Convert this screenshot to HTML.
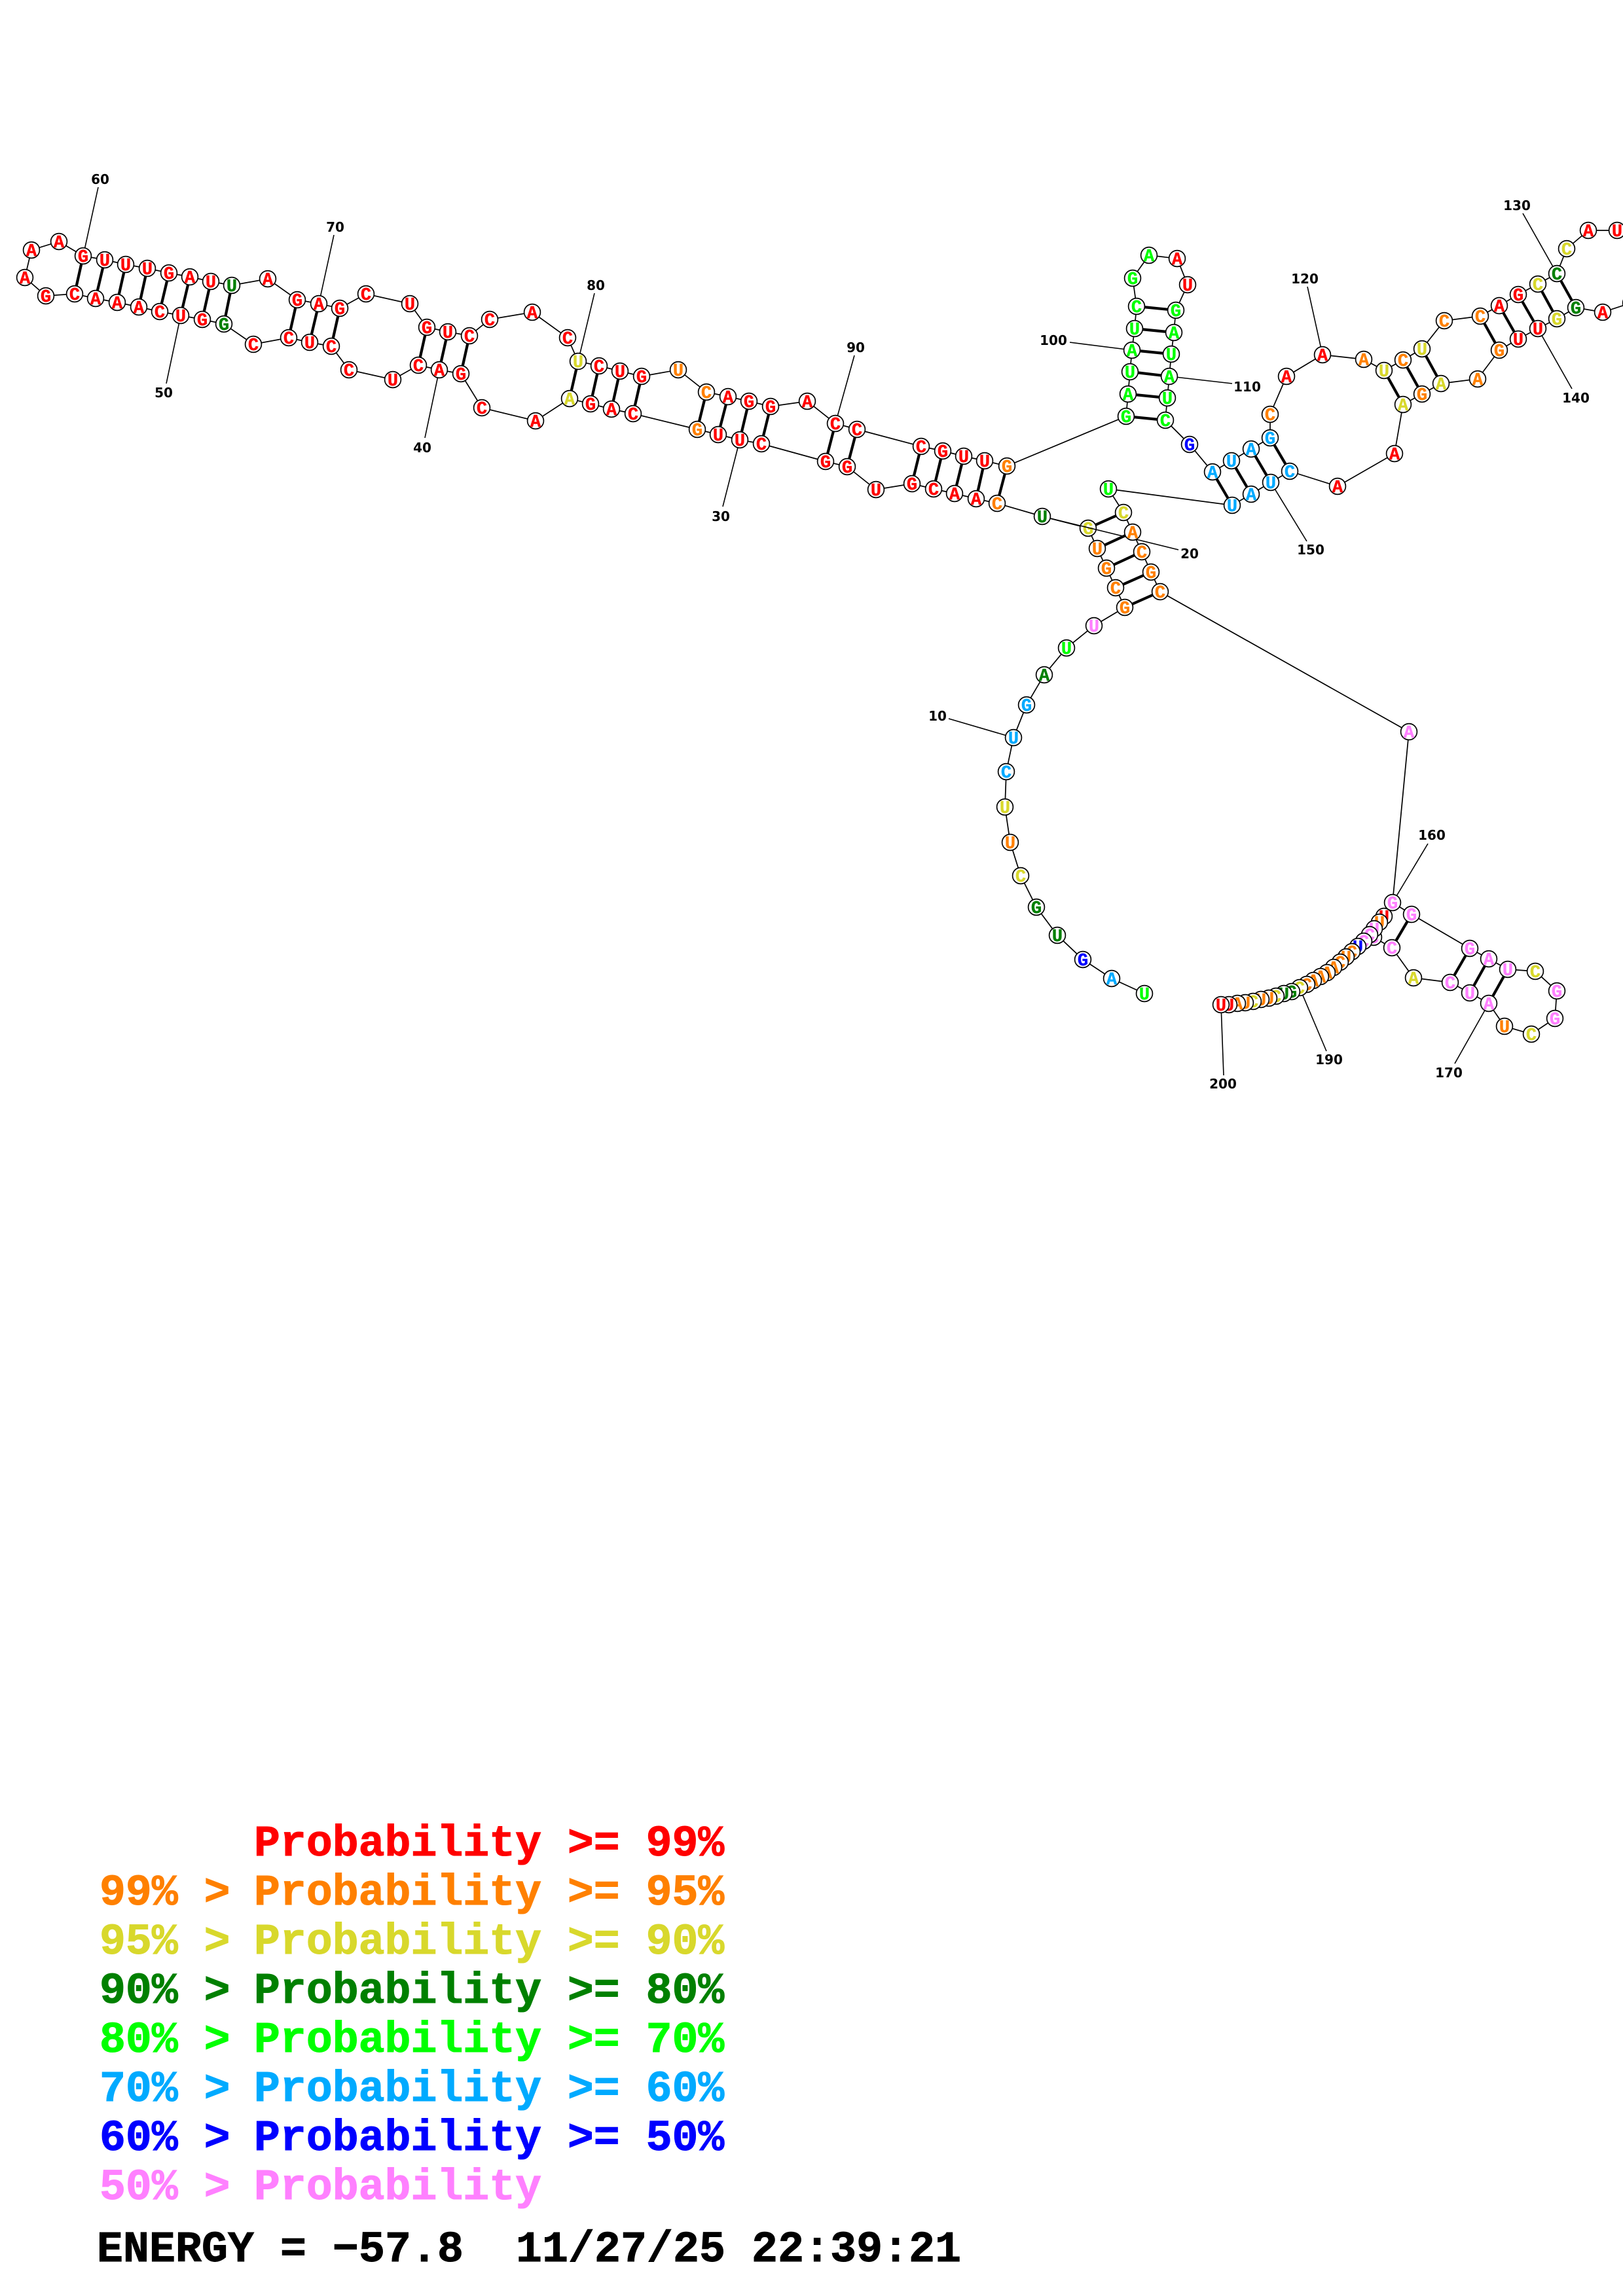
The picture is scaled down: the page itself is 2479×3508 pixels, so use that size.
<!DOCTYPE html>
<html><head><meta charset="utf-8"><title>RNA structure</title>
<style>
html,body{margin:0;padding:0;background:#fff}
svg{display:block}
circle{fill:#fff;stroke:#000;stroke-width:1.7}
.n text{font-family:"Liberation Mono",monospace;font-weight:bold;font-size:27px;text-anchor:middle;stroke-width:.45}
.r{fill:#ff0000;stroke:#ff0000}.o{fill:#ff8000;stroke:#ff8000}.y{fill:#d8d82c;stroke:#d8d82c}.d{fill:#008000;stroke:#008000}.g{fill:#00ff00;stroke:#00ff00}.s{fill:#00aaff;stroke:#00aaff}.b{fill:#0000ff;stroke:#0000ff}.p{fill:#ff80ff;stroke:#ff80ff}.k{fill:#000;stroke:#000}
.bb{fill:none;stroke:#000;stroke-width:1.7}
.bp{stroke:#000;stroke-width:4.2;fill:none}
.ll{stroke:#000;stroke-width:1.6;fill:none}
.num{font-family:"DejaVu Sans",sans-serif;font-weight:bold;font-size:20px;text-anchor:middle;fill:#000}
.leg{font-family:"Liberation Mono",monospace;font-weight:bold;font-size:66.5px;stroke-width:1}
</style></head><body>
<svg xmlns="http://www.w3.org/2000/svg" width="2479" height="3508" viewBox="0 0 2479 3508">
<rect width="2479" height="3508" fill="#fff"/>
<polyline class="bb" points="1748,1518 1698,1495 1654,1466 1615,1429 1583,1386 1559,1338 1543,1287 1535,1233 1537,1179 1548,1127 1568,1077 1595,1031 1629,990 1671,956 1718,928 1704,898 1690,868 1676,838 1662,807 1592,789 1523,769 1491,762 1458,754 1426,747 1393,739 1338,748 1294,713 1261,705 1163,678 1130,672 1097,664 1065,656 967,632 934,625 902,617 870,609 818,643 736,623 704,571 671,565 639,558 600,580 533,565 506,529 473,523 441,516 387,526 342,495 309,488 276,482 244,476 212,469 179,462 146,456 114,449 70,452 38,424 48,382 90,369 127,391 160,397 192,404 225,410 258,417 290,423 322,430 354,436 409,426 454,458 487,464 519,471 559,449 626,464 652,500 684,507 717,513 748,488 813,477 867,516 883,552 915,559 947,567 980,575 1036,565 1079,599 1112,606 1144,613 1177,621 1233,613 1276,647 1309,656 1407,682 1440,689 1472,697 1504,704 1538,712 1720,636 1723,602 1726,568 1729,535 1733,502 1736,468 1730,425 1755,390 1798,395 1814,435 1796,474 1793,508 1789,541 1786,575 1783,608 1780,642 1817,679 1852,721 1881,704 1911,686 1940,669 1940,633 1965,575 2020,542 2083,549 2114,566 2143,550 2172,533 2206,490 2261,483 2290,467 2319,450 2349,434 2378,418 2393,380 2426,352 2470,352 2510,370 2520,420 2491,463 2448,477 2407,470 2378,487 2349,502 2319,518 2290,535 2257,579 2201,586 2172,602 2143,618 2130,693 2043,743 1970,720 1941,737 1911,755 1882,772 1693,747 1716,783 1730,813 1744,843 1758,874 1772,904 2152,1118 2127,1379 2156,1397 2245,1449 2274,1465 2303,1481 2345,1484 2378,1514 2375,1556 2339,1580 2298,1568 2274,1533 2245,1517 2215,1501 2159,1494 2126,1448 2098,1432"/>
<g class="bp">
<path d="M1718 928L1772 904M1704 898L1758 874M1690 868L1744 843M1676 838L1730 813M1662 807L1716 783"/>
<path d="M1523 769L1538 712M1491 762L1504 704M1458 754L1472 697M1426 747L1440 689M1393 739L1407 682"/>
<path d="M1294 713L1309 656M1261 705L1276 647M1163 678L1177 621M1130 672L1144 613M1097 664L1112 606M1065 656L1079 599"/>
<path d="M967 632L980 575M934 625L947 567M902 617L915 559M870 609L883 552"/>
<path d="M704 571L717 513M671 565L684 507M639 558L652 500M506 529L519 471M473 523L487 464M441 516L454 458"/>
<path d="M342 495L354 436M309 488L322 430M276 482L290 423M244 476L258 417M212 469L225 410M179 462L192 404M146 456L160 397M114 449L127 391"/>
<path d="M1720 636L1780 642M1723 602L1783 608M1726 568L1786 575M1729 535L1789 541M1733 502L1793 508M1736 468L1796 474"/>
<path d="M1852 721L1882 772M1881 704L1911 755M1911 686L1941 737M1940 669L1970 720"/>
<path d="M2114 566L2143 618M2143 550L2172 602M2172 533L2201 586M2261 483L2290 535M2290 467L2319 518M2319 450L2349 502M2349 434L2378 487M2378 418L2407 470"/>
<path d="M2156 1397L2126 1448M2245 1449L2215 1501M2274 1465L2245 1517M2303 1481L2274 1533"/>
</g>
<g class="ll">
<path d="M1548 1127L1449 1098M1130 672L1104 774M671 565L649 669M276 482L254 586M127 391L150 286M487 464L510 359M883 552L908 448M1276 647L1305 543M1729 535L1634 523M1786 575L1882 586M2020 542L1997 438M2378 418L2326 326M2349 502L2401 594M1941 737L1996 827M2127 1379L2181 1289M2274 1533L2222 1625M1985 1509L2026 1606M1865 1535L1869 1643"/>
</g>
<g class="num">
<text class="num" x="1432" y="1101">10</text>
<text class="num" x="1817" y="853">20</text>
<text class="num" x="1101" y="796">30</text>
<text class="num" x="645" y="691">40</text>
<text class="num" x="250" y="607">50</text>
<text class="num" x="153" y="281">60</text>
<text class="num" x="512" y="354">70</text>
<text class="num" x="910" y="443">80</text>
<text class="num" x="1307" y="538">90</text>
<text class="num" x="1609" y="527">100</text>
<text class="num" x="1905" y="598">110</text>
<text class="num" x="1993" y="433">120</text>
<text class="num" x="2317" y="321">130</text>
<text class="num" x="2407" y="615">140</text>
<text class="num" x="2002" y="847">150</text>
<text class="num" x="2187" y="1283">160</text>
<text class="num" x="2213" y="1646">170</text>
<text class="num" x="2030" y="1626">190</text>
<text class="num" x="1868" y="1663">200</text>
</g>
<g class="n">
<circle cx="1748" cy="1518" r="12.4"/><text class="g" x="1748" y="1527">U</text>
<circle cx="1698" cy="1495" r="12.4"/><text class="s" x="1698" y="1504">A</text>
<circle cx="1654" cy="1466" r="12.4"/><text class="b" x="1654" y="1475">G</text>
<circle cx="1615" cy="1429" r="12.4"/><text class="d" x="1615" y="1438">U</text>
<circle cx="1583" cy="1386" r="12.4"/><text class="d" x="1583" y="1395">G</text>
<circle cx="1559" cy="1338" r="12.4"/><text class="y" x="1559" y="1347">C</text>
<circle cx="1543" cy="1287" r="12.4"/><text class="o" x="1543" y="1296">U</text>
<circle cx="1535" cy="1233" r="12.4"/><text class="y" x="1535" y="1242">U</text>
<circle cx="1537" cy="1179" r="12.4"/><text class="s" x="1537" y="1188">C</text>
<circle cx="1548" cy="1127" r="12.4"/><text class="s" x="1548" y="1136">U</text>
<circle cx="1568" cy="1077" r="12.4"/><text class="s" x="1568" y="1086">G</text>
<circle cx="1595" cy="1031" r="12.4"/><text class="d" x="1595" y="1040">A</text>
<circle cx="1629" cy="990" r="12.4"/><text class="g" x="1629" y="999">U</text>
<circle cx="1671" cy="956" r="12.4"/><text class="p" x="1671" y="965">U</text>
<circle cx="1718" cy="928" r="12.4"/><text class="o" x="1718" y="937">G</text>
<circle cx="1704" cy="898" r="12.4"/><text class="o" x="1704" y="907">C</text>
<circle cx="1690" cy="868" r="12.4"/><text class="o" x="1690" y="877">G</text>
<circle cx="1676" cy="838" r="12.4"/><text class="o" x="1676" y="847">U</text>
<circle cx="1662" cy="807" r="12.4"/><text class="y" x="1662" y="816">G</text>
<path class="ll" d="M1592 789L1800 840"/>
<circle cx="1592" cy="789" r="12.4"/><text class="d" x="1592" y="798">U</text>
<circle cx="1523" cy="769" r="12.4"/><text class="o" x="1523" y="778">C</text>
<circle cx="1491" cy="762" r="12.4"/><text class="r" x="1491" y="771">A</text>
<circle cx="1458" cy="754" r="12.4"/><text class="r" x="1458" y="763">A</text>
<circle cx="1426" cy="747" r="12.4"/><text class="r" x="1426" y="756">C</text>
<circle cx="1393" cy="739" r="12.4"/><text class="r" x="1393" y="748">G</text>
<circle cx="1338" cy="748" r="12.4"/><text class="r" x="1338" y="757">U</text>
<circle cx="1294" cy="713" r="12.4"/><text class="r" x="1294" y="722">G</text>
<circle cx="1261" cy="705" r="12.4"/><text class="r" x="1261" y="714">G</text>
<circle cx="1163" cy="678" r="12.4"/><text class="r" x="1163" y="687">C</text>
<circle cx="1130" cy="672" r="12.4"/><text class="r" x="1130" y="681">U</text>
<circle cx="1097" cy="664" r="12.4"/><text class="r" x="1097" y="673">U</text>
<circle cx="1065" cy="656" r="12.4"/><text class="o" x="1065" y="665">G</text>
<circle cx="967" cy="632" r="12.4"/><text class="r" x="967" y="641">C</text>
<circle cx="934" cy="625" r="12.4"/><text class="r" x="934" y="634">A</text>
<circle cx="902" cy="617" r="12.4"/><text class="r" x="902" y="626">G</text>
<circle cx="870" cy="609" r="12.4"/><text class="y" x="870" y="618">A</text>
<circle cx="818" cy="643" r="12.4"/><text class="r" x="818" y="652">A</text>
<circle cx="736" cy="623" r="12.4"/><text class="r" x="736" y="632">C</text>
<circle cx="704" cy="571" r="12.4"/><text class="r" x="704" y="580">G</text>
<circle cx="671" cy="565" r="12.4"/><text class="r" x="671" y="574">A</text>
<circle cx="639" cy="558" r="12.4"/><text class="r" x="639" y="567">C</text>
<circle cx="600" cy="580" r="12.4"/><text class="r" x="600" y="589">U</text>
<circle cx="533" cy="565" r="12.4"/><text class="r" x="533" y="574">C</text>
<circle cx="506" cy="529" r="12.4"/><text class="r" x="506" y="538">C</text>
<circle cx="473" cy="523" r="12.4"/><text class="r" x="473" y="532">U</text>
<circle cx="441" cy="516" r="12.4"/><text class="r" x="441" y="525">C</text>
<circle cx="387" cy="526" r="12.4"/><text class="r" x="387" y="535">C</text>
<circle cx="342" cy="495" r="12.4"/><text class="d" x="342" y="504">G</text>
<circle cx="309" cy="488" r="12.4"/><text class="r" x="309" y="497">G</text>
<circle cx="276" cy="482" r="12.4"/><text class="r" x="276" y="491">U</text>
<circle cx="244" cy="476" r="12.4"/><text class="r" x="244" y="485">C</text>
<circle cx="212" cy="469" r="12.4"/><text class="r" x="212" y="478">A</text>
<circle cx="179" cy="462" r="12.4"/><text class="r" x="179" y="471">A</text>
<circle cx="146" cy="456" r="12.4"/><text class="r" x="146" y="465">A</text>
<circle cx="114" cy="449" r="12.4"/><text class="r" x="114" y="458">C</text>
<circle cx="70" cy="452" r="12.4"/><text class="r" x="70" y="461">G</text>
<circle cx="38" cy="424" r="12.4"/><text class="r" x="38" y="433">A</text>
<circle cx="48" cy="382" r="12.4"/><text class="r" x="48" y="391">A</text>
<circle cx="90" cy="369" r="12.4"/><text class="r" x="90" y="378">A</text>
<circle cx="127" cy="391" r="12.4"/><text class="r" x="127" y="400">G</text>
<circle cx="160" cy="397" r="12.4"/><text class="r" x="160" y="406">U</text>
<circle cx="192" cy="404" r="12.4"/><text class="r" x="192" y="413">U</text>
<circle cx="225" cy="410" r="12.4"/><text class="r" x="225" y="419">U</text>
<circle cx="258" cy="417" r="12.4"/><text class="r" x="258" y="426">G</text>
<circle cx="290" cy="423" r="12.4"/><text class="r" x="290" y="432">A</text>
<circle cx="322" cy="430" r="12.4"/><text class="r" x="322" y="439">U</text>
<circle cx="354" cy="436" r="12.4"/><text class="d" x="354" y="445">U</text>
<circle cx="409" cy="426" r="12.4"/><text class="r" x="409" y="435">A</text>
<circle cx="454" cy="458" r="12.4"/><text class="r" x="454" y="467">G</text>
<circle cx="487" cy="464" r="12.4"/><text class="r" x="487" y="473">A</text>
<circle cx="519" cy="471" r="12.4"/><text class="r" x="519" y="480">G</text>
<circle cx="559" cy="449" r="12.4"/><text class="r" x="559" y="458">C</text>
<circle cx="626" cy="464" r="12.4"/><text class="r" x="626" y="473">U</text>
<circle cx="652" cy="500" r="12.4"/><text class="r" x="652" y="509">G</text>
<circle cx="684" cy="507" r="12.4"/><text class="r" x="684" y="516">U</text>
<circle cx="717" cy="513" r="12.4"/><text class="r" x="717" y="522">C</text>
<circle cx="748" cy="488" r="12.4"/><text class="r" x="748" y="497">C</text>
<circle cx="813" cy="477" r="12.4"/><text class="r" x="813" y="486">A</text>
<circle cx="867" cy="516" r="12.4"/><text class="r" x="867" y="525">C</text>
<circle cx="883" cy="552" r="12.4"/><text class="y" x="883" y="561">U</text>
<circle cx="915" cy="559" r="12.4"/><text class="r" x="915" y="568">C</text>
<circle cx="947" cy="567" r="12.4"/><text class="r" x="947" y="576">U</text>
<circle cx="980" cy="575" r="12.4"/><text class="r" x="980" y="584">G</text>
<circle cx="1036" cy="565" r="12.4"/><text class="o" x="1036" y="574">U</text>
<circle cx="1079" cy="599" r="12.4"/><text class="o" x="1079" y="608">C</text>
<circle cx="1112" cy="606" r="12.4"/><text class="r" x="1112" y="615">A</text>
<circle cx="1144" cy="613" r="12.4"/><text class="r" x="1144" y="622">G</text>
<circle cx="1177" cy="621" r="12.4"/><text class="r" x="1177" y="630">G</text>
<circle cx="1233" cy="613" r="12.4"/><text class="r" x="1233" y="622">A</text>
<circle cx="1276" cy="647" r="12.4"/><text class="r" x="1276" y="656">C</text>
<circle cx="1309" cy="656" r="12.4"/><text class="r" x="1309" y="665">C</text>
<circle cx="1407" cy="682" r="12.4"/><text class="r" x="1407" y="691">C</text>
<circle cx="1440" cy="689" r="12.4"/><text class="r" x="1440" y="698">G</text>
<circle cx="1472" cy="697" r="12.4"/><text class="r" x="1472" y="706">U</text>
<circle cx="1504" cy="704" r="12.4"/><text class="r" x="1504" y="713">U</text>
<circle cx="1538" cy="712" r="12.4"/><text class="o" x="1538" y="721">G</text>
<circle cx="1720" cy="636" r="12.4"/><text class="g" x="1720" y="645">G</text>
<circle cx="1723" cy="602" r="12.4"/><text class="g" x="1723" y="611">A</text>
<circle cx="1726" cy="568" r="12.4"/><text class="g" x="1726" y="577">U</text>
<circle cx="1729" cy="535" r="12.4"/><text class="g" x="1729" y="544">A</text>
<circle cx="1733" cy="502" r="12.4"/><text class="g" x="1733" y="511">U</text>
<circle cx="1736" cy="468" r="12.4"/><text class="g" x="1736" y="477">C</text>
<circle cx="1730" cy="425" r="12.4"/><text class="g" x="1730" y="434">G</text>
<circle cx="1755" cy="390" r="12.4"/><text class="g" x="1755" y="399">A</text>
<circle cx="1798" cy="395" r="12.4"/><text class="r" x="1798" y="404">A</text>
<circle cx="1814" cy="435" r="12.4"/><text class="r" x="1814" y="444">U</text>
<circle cx="1796" cy="474" r="12.4"/><text class="g" x="1796" y="483">G</text>
<circle cx="1793" cy="508" r="12.4"/><text class="g" x="1793" y="517">A</text>
<circle cx="1789" cy="541" r="12.4"/><text class="g" x="1789" y="550">U</text>
<circle cx="1786" cy="575" r="12.4"/><text class="g" x="1786" y="584">A</text>
<circle cx="1783" cy="608" r="12.4"/><text class="g" x="1783" y="617">U</text>
<circle cx="1780" cy="642" r="12.4"/><text class="g" x="1780" y="651">C</text>
<circle cx="1817" cy="679" r="12.4"/><text class="b" x="1817" y="688">G</text>
<circle cx="1852" cy="721" r="12.4"/><text class="s" x="1852" y="730">A</text>
<circle cx="1881" cy="704" r="12.4"/><text class="s" x="1881" y="713">U</text>
<circle cx="1911" cy="686" r="12.4"/><text class="s" x="1911" y="695">A</text>
<circle cx="1940" cy="669" r="12.4"/><text class="s" x="1940" y="678">G</text>
<circle cx="1940" cy="633" r="12.4"/><text class="o" x="1940" y="642">C</text>
<circle cx="1965" cy="575" r="12.4"/><text class="r" x="1965" y="584">A</text>
<circle cx="2020" cy="542" r="12.4"/><text class="r" x="2020" y="551">A</text>
<circle cx="2083" cy="549" r="12.4"/><text class="o" x="2083" y="558">A</text>
<circle cx="2114" cy="566" r="12.4"/><text class="y" x="2114" y="575">U</text>
<circle cx="2143" cy="550" r="12.4"/><text class="o" x="2143" y="559">C</text>
<circle cx="2172" cy="533" r="12.4"/><text class="y" x="2172" y="542">U</text>
<circle cx="2206" cy="490" r="12.4"/><text class="o" x="2206" y="499">C</text>
<circle cx="2261" cy="483" r="12.4"/><text class="o" x="2261" y="492">C</text>
<circle cx="2290" cy="467" r="12.4"/><text class="r" x="2290" y="476">A</text>
<circle cx="2319" cy="450" r="12.4"/><text class="r" x="2319" y="459">G</text>
<circle cx="2349" cy="434" r="12.4"/><text class="y" x="2349" y="443">C</text>
<circle cx="2378" cy="418" r="12.4"/><text class="d" x="2378" y="427">C</text>
<circle cx="2393" cy="380" r="12.4"/><text class="y" x="2393" y="389">C</text>
<circle cx="2426" cy="352" r="12.4"/><text class="r" x="2426" y="361">A</text>
<circle cx="2470" cy="352" r="12.4"/><text class="r" x="2470" y="361">U</text>
<circle cx="2491" cy="463" r="12.4"/>
<circle cx="2448" cy="477" r="12.4"/><text class="r" x="2448" y="486">A</text>
<circle cx="2407" cy="470" r="12.4"/><text class="d" x="2407" y="479">G</text>
<circle cx="2378" cy="487" r="12.4"/><text class="y" x="2378" y="496">G</text>
<circle cx="2349" cy="502" r="12.4"/><text class="r" x="2349" y="511">U</text>
<circle cx="2319" cy="518" r="12.4"/><text class="r" x="2319" y="527">U</text>
<circle cx="2290" cy="535" r="12.4"/><text class="o" x="2290" y="544">G</text>
<circle cx="2257" cy="579" r="12.4"/><text class="o" x="2257" y="588">A</text>
<circle cx="2201" cy="586" r="12.4"/><text class="y" x="2201" y="595">A</text>
<circle cx="2172" cy="602" r="12.4"/><text class="o" x="2172" y="611">G</text>
<circle cx="2143" cy="618" r="12.4"/><text class="y" x="2143" y="627">A</text>
<circle cx="2130" cy="693" r="12.4"/><text class="r" x="2130" y="702">A</text>
<circle cx="2043" cy="743" r="12.4"/><text class="r" x="2043" y="752">A</text>
<circle cx="1970" cy="720" r="12.4"/><text class="s" x="1970" y="729">C</text>
<circle cx="1941" cy="737" r="12.4"/><text class="s" x="1941" y="746">U</text>
<circle cx="1911" cy="755" r="12.4"/><text class="s" x="1911" y="764">A</text>
<circle cx="1882" cy="772" r="12.4"/><text class="s" x="1882" y="781">U</text>
<circle cx="1693" cy="747" r="12.4"/><text class="g" x="1693" y="756">U</text>
<circle cx="1716" cy="783" r="12.4"/><text class="y" x="1716" y="792">C</text>
<circle cx="1730" cy="813" r="12.4"/><text class="o" x="1730" y="822">A</text>
<circle cx="1744" cy="843" r="12.4"/><text class="o" x="1744" y="852">C</text>
<circle cx="1758" cy="874" r="12.4"/><text class="o" x="1758" y="883">G</text>
<circle cx="1772" cy="904" r="12.4"/><text class="o" x="1772" y="913">C</text>
<circle cx="2152" cy="1118" r="12.4"/><text class="p" x="2152" y="1127">A</text>
<circle cx="2098" cy="1432" r="12.4"/><text class="p" x="2098" y="1441">C</text>
<circle cx="2114" cy="1400" r="12.4"/><text class="r" x="2114" y="1409">U</text>
<circle cx="2107" cy="1409" r="12.4"/><text class="o" x="2107" y="1418">U</text>
<circle cx="2099" cy="1419" r="12.4"/><text class="p" x="2099" y="1428">U</text>
<circle cx="2092" cy="1428" r="12.4"/><text class="p" x="2092" y="1437">C</text>
<circle cx="2083" cy="1438" r="12.4"/><text class="p" x="2083" y="1447">C</text>
<circle cx="2074" cy="1446" r="12.4"/><text class="b" x="2074" y="1455">U</text>
<circle cx="2065" cy="1454" r="12.4"/><text class="o" x="2065" y="1463">C</text>
<circle cx="2056" cy="1462" r="12.4"/><text class="o" x="2056" y="1471">U</text>
<circle cx="2047" cy="1470" r="12.4"/><text class="o" x="2047" y="1479">C</text>
<circle cx="2037" cy="1478" r="12.4"/><text class="o" x="2037" y="1487">A</text>
<circle cx="2027" cy="1486" r="12.4"/><text class="o" x="2027" y="1495">A</text>
<circle cx="2017" cy="1492" r="12.4"/><text class="o" x="2017" y="1501">A</text>
<circle cx="2006" cy="1498" r="12.4"/><text class="o" x="2006" y="1507">A</text>
<circle cx="1996" cy="1504" r="12.4"/><text class="o" x="1996" y="1513">C</text>
<circle cx="1985" cy="1509" r="12.4"/><text class="y" x="1985" y="1518">C</text>
<circle cx="1973" cy="1515" r="12.4"/><text class="d" x="1973" y="1524">G</text>
<circle cx="1961" cy="1518" r="12.4"/><text class="d" x="1961" y="1527">U</text>
<circle cx="1949" cy="1522" r="12.4"/><text class="y" x="1949" y="1531">C</text>
<circle cx="1938" cy="1525" r="12.4"/><text class="o" x="1938" y="1534">U</text>
<circle cx="1926" cy="1527" r="12.4"/><text class="o" x="1926" y="1536">U</text>
<circle cx="1914" cy="1530" r="12.4"/><text class="y" x="1914" y="1539">C</text>
<circle cx="1902" cy="1532" r="12.4"/><text class="o" x="1902" y="1541">U</text>
<circle cx="1890" cy="1533" r="12.4"/><text class="o" x="1890" y="1542">A</text>
<circle cx="1877" cy="1535" r="12.4"/><text class="r" x="1877" y="1544">U</text>
<circle cx="1865" cy="1535" r="12.4"/><text class="r" x="1865" y="1544">U</text>
<circle cx="2127" cy="1379" r="12.4"/><text class="p" x="2127" y="1388">G</text>
<circle cx="2156" cy="1397" r="12.4"/><text class="p" x="2156" y="1406">G</text>
<circle cx="2245" cy="1449" r="12.4"/><text class="p" x="2245" y="1458">G</text>
<circle cx="2274" cy="1465" r="12.4"/><text class="p" x="2274" y="1474">A</text>
<circle cx="2303" cy="1481" r="12.4"/><text class="p" x="2303" y="1490">U</text>
<circle cx="2345" cy="1484" r="12.4"/><text class="y" x="2345" y="1493">C</text>
<circle cx="2378" cy="1514" r="12.4"/><text class="p" x="2378" y="1523">G</text>
<circle cx="2375" cy="1556" r="12.4"/><text class="p" x="2375" y="1565">G</text>
<circle cx="2339" cy="1580" r="12.4"/><text class="y" x="2339" y="1589">C</text>
<circle cx="2298" cy="1568" r="12.4"/><text class="o" x="2298" y="1577">U</text>
<circle cx="2274" cy="1533" r="12.4"/><text class="p" x="2274" y="1542">A</text>
<circle cx="2245" cy="1517" r="12.4"/><text class="p" x="2245" y="1526">U</text>
<circle cx="2215" cy="1501" r="12.4"/><text class="p" x="2215" y="1510">C</text>
<circle cx="2159" cy="1494" r="12.4"/><text class="y" x="2159" y="1503">A</text>
<circle cx="2126" cy="1448" r="12.4"/><text class="p" x="2126" y="1457">C</text>
</g>
<g class="leg">
<text class="leg r" x="388" y="2835">Probability &gt;= 99%</text>
<text class="leg o" x="152" y="2910">99% &gt;</text><text class="leg o" x="388" y="2910">Probability &gt;= 95%</text>
<text class="leg y" x="152" y="2985">95% &gt;</text><text class="leg y" x="388" y="2985">Probability &gt;= 90%</text>
<text class="leg d" x="152" y="3060">90% &gt;</text><text class="leg d" x="388" y="3060">Probability &gt;= 80%</text>
<text class="leg g" x="152" y="3135">80% &gt;</text><text class="leg g" x="388" y="3135">Probability &gt;= 70%</text>
<text class="leg s" x="152" y="3210">70% &gt;</text><text class="leg s" x="388" y="3210">Probability &gt;= 60%</text>
<text class="leg b" x="152" y="3285">60% &gt;</text><text class="leg b" x="388" y="3285">Probability &gt;= 50%</text>
<text class="leg p" x="152" y="3360">50% &gt;</text><text class="leg p" x="388" y="3360">Probability</text>
<text class="leg k" x="148" y="3455" xml:space="preserve" textLength="1320">ENERGY = −57.8  11/27/25 22:39:21</text>
</g>
</svg>
</body></html>
